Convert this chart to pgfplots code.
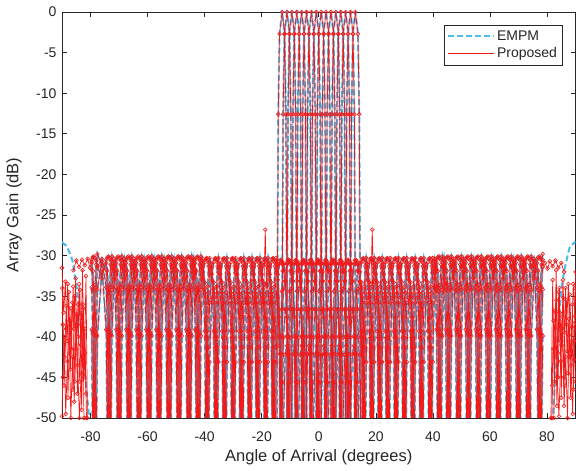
\documentclass[border=0pt]{standalone}
\usepackage{fontspec}
\setmainfont{Liberation Sans}
\usepackage{pgfplots}
\pgfplotsset{compat=1.18}
\usepackage{pgfplotstable}
\definecolor{cEMPM}{rgb}{0.30,0.745,0.933}
\definecolor{cProp}{rgb}{0.95,0.10,0.10}
\definecolor{axgray}{rgb}{0.15,0.15,0.15}

\pgfplotsset{
  empmline/.style={color=cEMPM, line width=2pt, dash pattern=on 6pt off 3pt, mark=none},
  propline/.style={color=cProp, line width=0.7pt, mark=none},
  propmark/.style={color=cProp, only marks, mark=o, mark size=1.9pt,
    mark options={line width=0.6pt, solid}, restrict y to domain=-50.5:0.5},
  propboth/.style={color=cProp, line width=0.7pt, mark=o, mark size=1.9pt,
    mark options={line width=0.6pt, solid}},
}

% sidelobe region, five beams (a..e) sampled on one angle grid
\pgfplotstableread{
x a b c d e
-79.6 -39.1 -33.9 -31.7 -30.9 -30.5
-79.2 -55 -39.4 -34.2 -31.9 -30.2
-78.8 -39.1 -55 -39.7 -34.4 -30.1
-78.4 -33.6 -39.4 -55 -39.9 -30.3
-78.0 -31.1 -33.9 -39.7 -55 -30.6
-77.6 -29.8 -31.4 -34.2 -39.9 -31.3
-76.05 -31.2 -30.4 -30.7 -32.0 -32.8
-74.5 -39.1 -33.9 -31.7 -30.9 -30.5
-74.1 -55 -39.4 -34.2 -31.9 -30.2
-73.7 -39.1 -55 -39.7 -34.4 -30.1
-73.3 -33.6 -39.4 -55 -39.9 -30.3
-72.9 -31.1 -33.9 -39.7 -55 -30.6
-72.5 -30.1 -31.4 -34.2 -39.9 -31.3
-71.75 -31.2 -30.4 -30.7 -32.0 -32.8
-71.0 -39.1 -33.9 -31.7 -30.9 -30.5
-70.6 -55 -39.4 -34.2 -31.9 -30.2
-70.2 -39.1 -55 -39.7 -34.4 -30.1
-69.8 -33.6 -39.4 -55 -39.9 -30.3
-69.4 -31.1 -33.9 -39.7 -55 -30.6
-69.0 -30.1 -31.4 -34.2 -39.9 -31.3
-68.25 -31.2 -30.4 -30.7 -32.0 -32.8
-67.5 -39.1 -33.9 -31.7 -30.9 -30.5
-67.1 -55 -39.4 -34.2 -31.9 -30.2
-66.7 -39.1 -55 -39.7 -34.4 -30.1
-66.3 -33.6 -39.4 -55 -39.9 -30.3
-65.9 -31.1 -33.9 -39.7 -55 -30.6
-65.5 -30.1 -31.4 -34.2 -39.9 -31.3
-64.75 -31.2 -30.4 -30.7 -32.0 -32.8
-64.0 -39.1 -33.9 -31.7 -30.9 -30.5
-63.6 -55 -39.4 -34.2 -31.9 -30.2
-63.2 -39.1 -55 -39.7 -34.4 -30.1
-62.8 -33.6 -39.4 -55 -39.9 -30.3
-62.4 -31.1 -33.9 -39.7 -55 -30.6
-62.0 -30.1 -31.4 -34.2 -39.9 -31.3
-61.25 -31.2 -30.4 -30.7 -32.0 -32.8
-60.5 -39.1 -33.9 -31.7 -30.9 -30.5
-60.1 -55 -39.4 -34.2 -31.9 -30.2
-59.7 -39.1 -55 -39.7 -34.4 -30.1
-59.3 -33.6 -39.4 -55 -39.9 -30.3
-58.9 -31.1 -33.9 -39.7 -55 -30.6
-58.5 -30.1 -31.4 -34.2 -39.9 -31.3
-57.75 -31.2 -30.4 -30.7 -32.0 -32.8
-57.0 -39.1 -33.9 -31.7 -30.9 -30.5
-56.6 -55 -39.4 -34.2 -31.9 -30.2
-56.2 -39.1 -55 -39.7 -34.4 -30.1
-55.8 -33.6 -39.4 -55 -39.9 -30.3
-55.4 -31.1 -33.9 -39.7 -55 -30.6
-55.0 -30.1 -31.4 -34.2 -39.9 -31.3
-54.25 -31.2 -30.4 -30.7 -32.0 -32.8
-53.5 -39.1 -33.9 -31.7 -30.9 -30.5
-53.1 -55 -39.4 -34.2 -31.9 -30.2
-52.7 -39.1 -55 -39.7 -34.4 -30.1
-52.3 -33.6 -39.4 -55 -39.9 -30.3
-51.9 -31.1 -33.9 -39.7 -55 -30.6
-51.5 -30.1 -31.4 -34.2 -39.9 -31.3
-50.75 -31.2 -30.4 -30.7 -32.0 -32.8
-50.0 -39.1 -33.9 -31.7 -30.9 -30.5
-49.6 -55 -39.4 -34.2 -31.9 -30.2
-49.2 -39.1 -55 -39.7 -34.4 -30.1
-48.8 -33.6 -39.4 -55 -39.9 -30.3
-48.4 -31.1 -33.9 -39.7 -55 -30.6
-48.0 -30.1 -31.4 -34.2 -39.9 -31.3
-47.25 -31.2 -30.4 -30.7 -32.0 -32.8
-46.5 -39.1 -33.9 -31.7 -30.9 -30.5
-46.1 -55 -39.4 -34.2 -31.9 -30.2
-45.7 -39.1 -55 -39.7 -34.4 -30.1
-45.3 -33.6 -39.4 -55 -39.9 -30.3
-44.9 -31.1 -33.9 -39.7 -55 -30.6
-44.5 -30.1 -31.4 -34.2 -39.9 -31.3
-43.9 -31.2 -30.4 -30.7 -32.0 -32.8
-43.3 -39.1 -33.9 -31.7 -30.9 -30.5
-42.9 -55 -39.4 -34.2 -31.9 -30.2
-42.5 -39.1 -55 -39.7 -34.4 -30.1
-42.1 -33.6 -39.4 -55 -39.9 -30.3
-41.7 -31.1 -33.9 -39.7 -55 -30.6
-41.3 -30.1 -31.4 -34.2 -39.9 -31.3
-40.7 -31.2 -30.4 -30.7 -32.0 -32.8
-39.95 -39.3 -34.6 -33.3 -34.1 -30.8
-39.61 -55 -40.1 -35.8 -35.1 -30.4
-39.27 -39.3 -55 -41.3 -37.6 -30.3
-38.93 -33.8 -40.1 -55 -43.1 -30.5
-38.59 -31.3 -34.6 -41.3 -55 -30.9
-38.25 -30.3 -32.1 -35.8 -43.1 -31.6
-37.55 -31.4 -31.1 -32.3 -35.2 -33.0
-36.85 -39.3 -34.6 -33.3 -34.1 -30.8
-36.51 -55 -40.1 -35.8 -35.1 -30.4
-36.17 -39.3 -55 -41.3 -37.6 -30.3
-35.83 -33.8 -40.1 -55 -43.1 -30.5
-35.49 -31.3 -34.6 -41.3 -55 -30.9
-35.15 -30.3 -32.1 -35.8 -43.1 -31.6
-34.5 -31.4 -31.1 -32.3 -35.2 -33.0
-33.85 -39.3 -34.6 -33.3 -34.1 -30.8
-33.51 -55 -40.1 -35.8 -35.1 -30.4
-33.17 -39.3 -55 -41.3 -37.6 -30.3
-32.83 -33.8 -40.1 -55 -43.1 -30.5
-32.49 -31.3 -34.6 -41.3 -55 -30.9
-32.15 -30.3 -32.1 -35.8 -43.1 -31.6
-31.5 -31.4 -31.1 -32.3 -35.2 -33.0
-30.85 -39.3 -34.6 -33.3 -34.1 -30.8
-30.51 -55 -40.1 -35.8 -35.1 -30.4
-30.17 -39.3 -55 -41.3 -37.6 -30.3
-29.83 -33.8 -40.1 -55 -43.1 -30.5
-29.49 -31.3 -34.6 -41.3 -55 -30.9
-29.15 -30.3 -32.1 -35.8 -43.1 -31.6
-28.55 -31.4 -31.1 -32.3 -35.2 -33.0
-27.95 -39.3 -34.6 -33.3 -34.1 -30.8
-27.61 -55 -40.1 -35.8 -35.1 -30.4
-27.27 -39.3 -55 -41.3 -37.6 -30.3
-26.93 -33.8 -40.1 -55 -43.1 -30.5
-26.59 -31.3 -34.6 -41.3 -55 -30.9
-26.25 -30.3 -32.1 -35.8 -43.1 -31.6
-25.65 -31.4 -31.1 -32.3 -35.2 -33.0
-25.05 -39.3 -34.6 -33.3 -34.1 -30.8
-24.71 -55 -40.1 -35.8 -35.1 -30.4
-24.37 -39.3 -55 -41.3 -37.6 -30.3
-24.03 -33.8 -40.1 -55 -43.1 -30.5
-23.69 -31.3 -34.6 -41.3 -55 -30.9
-23.35 -30.3 -32.1 -35.8 -43.1 -31.6
-22.8 -31.4 -31.1 -32.3 -35.2 -33.0
-22.25 -39.3 -34.6 -33.3 -34.1 -30.8
-21.91 -55 -40.1 -35.8 -35.1 -30.4
-21.57 -39.3 -55 -41.3 -37.6 -30.3
-21.23 -33.8 -40.1 -55 -43.1 -30.5
-20.89 -31.3 -34.6 -41.3 -55 -30.9
-20.55 -30.3 -32.1 -35.8 -43.1 -31.6
-20.0 -31.4 -31.1 -32.3 -35.2 -33.0
-19.45 -39.3 -34.6 -33.3 -34.1 -30.8
-19.11 -55 -40.1 -35.8 -35.1 -30.4
-18.77 -39.3 -55 -41.3 -37.6 -30.3
-18.43 -33.8 -40.1 -55 -43.1 -30.5
-18.09 -31.3 -34.6 -41.3 -55 -30.9
-17.75 -30.3 -32.1 -35.8 -43.1 -31.6
-17.2 -31.4 -31.1 -32.3 -35.2 -33.0
-16.65 -39.3 -34.6 -33.3 -34.1 -30.8
-16.31 -55 -40.1 -35.8 -35.1 -30.4
-15.97 -39.3 -55 -41.3 -37.6 -30.3
-15.63 -33.8 -40.1 -55 -43.1 -30.5
-15.29 -31.3 -34.6 -41.3 -55 -30.9
-14.95 -30.3 -32.1 -35.8 -43.1 -31.6
-14.4 -31.4 -31.1 -32.3 -35.2 -33.0
-13.85 -39.9 -36.6 -37.6 -41.1 -31.0
-13.55 -55 -42.1 -40.1 -42.1 -30.6
-13.25 -39.9 -55 -45.6 -44.6 -30.5
-12.95 -34.4 -42.1 -55 -50.1 -30.7
-12.65 -31.9 -36.6 -45.6 -55 -31.1
-12.35 -30.9 -34.1 -40.1 -50.1 -31.8
-11.75 -32.0 -33.1 -36.6 -42.2 -33.2
-11.15 -39.9 -36.6 -37.6 -41.1 -31.0
-10.85 -55 -42.1 -40.1 -42.1 -30.6
-10.55 -39.9 -55 -45.6 -44.6 -30.5
-10.25 -34.4 -42.1 -55 -50.1 -30.7
-9.95 -31.9 -36.6 -45.6 -55 -31.1
-9.65 -30.9 -34.1 -40.1 -50.1 -31.8
-9.1 -32.0 -33.1 -36.6 -42.2 -33.2
-8.55 -39.9 -36.6 -37.6 -41.1 -31.0
-8.25 -55 -42.1 -40.1 -42.1 -30.6
-7.95 -39.9 -55 -45.6 -44.6 -30.5
-7.65 -34.4 -42.1 -55 -50.1 -30.7
-7.35 -31.9 -36.6 -45.6 -55 -31.1
-7.05 -30.9 -34.1 -40.1 -50.1 -31.8
-6.5 -32.0 -33.1 -36.6 -42.2 -33.2
-5.95 -39.9 -36.6 -37.6 -41.1 -31.0
-5.65 -55 -42.1 -40.1 -42.1 -30.6
-5.35 -39.9 -55 -45.6 -44.6 -30.5
-5.05 -34.4 -42.1 -55 -50.1 -30.7
-4.75 -31.9 -36.6 -45.6 -55 -31.1
-4.45 -30.9 -34.1 -40.1 -50.1 -31.8
-3.9 -32.0 -33.1 -36.6 -42.2 -33.2
-3.35 -39.9 -36.6 -37.6 -41.1 -31.0
-3.05 -55 -42.1 -40.1 -42.1 -30.6
-2.75 -39.9 -55 -45.6 -44.6 -30.5
-2.45 -34.4 -42.1 -55 -50.1 -30.7
-2.15 -31.9 -36.6 -45.6 -55 -31.1
-1.85 -30.9 -34.1 -40.1 -50.1 -31.8
-1.3 -32.0 -33.1 -36.6 -42.2 -33.2
-0.75 -39.9 -36.6 -37.6 -41.1 -31.0
-0.45 -55 -42.1 -40.1 -42.1 -30.6
-0.15 -39.9 -55 -45.6 -44.6 -30.5
0.15 -34.4 -42.1 -55 -50.1 -30.7
0.45 -31.9 -36.6 -45.6 -55 -31.1
0.75 -30.9 -34.1 -40.1 -50.1 -31.8
1.3 -32.0 -33.1 -36.6 -42.2 -33.2
1.85 -39.9 -36.6 -37.6 -41.1 -31.0
2.15 -55 -42.1 -40.1 -42.1 -30.6
2.45 -39.9 -55 -45.6 -44.6 -30.5
2.75 -34.4 -42.1 -55 -50.1 -30.7
3.05 -31.9 -36.6 -45.6 -55 -31.1
3.35 -30.9 -34.1 -40.1 -50.1 -31.8
3.9 -32.0 -33.1 -36.6 -42.2 -33.2
4.45 -39.9 -36.6 -37.6 -41.1 -31.0
4.75 -55 -42.1 -40.1 -42.1 -30.6
5.05 -39.9 -55 -45.6 -44.6 -30.5
5.35 -34.4 -42.1 -55 -50.1 -30.7
5.65 -31.9 -36.6 -45.6 -55 -31.1
5.95 -30.9 -34.1 -40.1 -50.1 -31.8
6.5 -32.0 -33.1 -36.6 -42.2 -33.2
7.05 -39.9 -36.6 -37.6 -41.1 -31.0
7.35 -55 -42.1 -40.1 -42.1 -30.6
7.65 -39.9 -55 -45.6 -44.6 -30.5
7.95 -34.4 -42.1 -55 -50.1 -30.7
8.25 -31.9 -36.6 -45.6 -55 -31.1
8.55 -30.9 -34.1 -40.1 -50.1 -31.8
9.1 -32.0 -33.1 -36.6 -42.2 -33.2
9.65 -39.9 -36.6 -37.6 -41.1 -31.0
9.95 -55 -42.1 -40.1 -42.1 -30.6
10.25 -39.9 -55 -45.6 -44.6 -30.5
10.55 -34.4 -42.1 -55 -50.1 -30.7
10.85 -31.9 -36.6 -45.6 -55 -31.1
11.15 -30.9 -34.1 -40.1 -50.1 -31.8
11.75 -32.0 -33.1 -36.6 -42.2 -33.2
12.35 -39.9 -36.6 -37.6 -41.1 -31.0
12.65 -55 -42.1 -40.1 -42.1 -30.6
12.95 -39.9 -55 -45.6 -44.6 -30.5
13.25 -34.4 -42.1 -55 -50.1 -30.7
13.55 -31.9 -36.6 -45.6 -55 -31.1
13.85 -30.9 -34.1 -40.1 -50.1 -31.8
14.4 -32.0 -33.1 -36.6 -42.2 -33.2
14.95 -39.3 -34.6 -33.3 -34.1 -30.8
15.29 -55 -40.1 -35.8 -35.1 -30.4
15.63 -39.3 -55 -41.3 -37.6 -30.3
15.97 -33.8 -40.1 -55 -43.1 -30.5
16.31 -31.3 -34.6 -41.3 -55 -30.9
16.65 -30.3 -32.1 -35.8 -43.1 -31.6
17.2 -31.4 -31.1 -32.3 -35.2 -33.0
17.75 -39.3 -34.6 -33.3 -34.1 -30.8
18.09 -55 -40.1 -35.8 -35.1 -30.4
18.43 -39.3 -55 -41.3 -37.6 -30.3
18.77 -33.8 -40.1 -55 -43.1 -30.5
19.11 -31.3 -34.6 -41.3 -55 -30.9
19.45 -30.3 -32.1 -35.8 -43.1 -31.6
20.0 -31.4 -31.1 -32.3 -35.2 -33.0
20.55 -39.3 -34.6 -33.3 -34.1 -30.8
20.89 -55 -40.1 -35.8 -35.1 -30.4
21.23 -39.3 -55 -41.3 -37.6 -30.3
21.57 -33.8 -40.1 -55 -43.1 -30.5
21.91 -31.3 -34.6 -41.3 -55 -30.9
22.25 -30.3 -32.1 -35.8 -43.1 -31.6
22.8 -31.4 -31.1 -32.3 -35.2 -33.0
23.35 -39.3 -34.6 -33.3 -34.1 -30.8
23.69 -55 -40.1 -35.8 -35.1 -30.4
24.03 -39.3 -55 -41.3 -37.6 -30.3
24.37 -33.8 -40.1 -55 -43.1 -30.5
24.71 -31.3 -34.6 -41.3 -55 -30.9
25.05 -30.3 -32.1 -35.8 -43.1 -31.6
25.65 -31.4 -31.1 -32.3 -35.2 -33.0
26.25 -39.3 -34.6 -33.3 -34.1 -30.8
26.59 -55 -40.1 -35.8 -35.1 -30.4
26.93 -39.3 -55 -41.3 -37.6 -30.3
27.27 -33.8 -40.1 -55 -43.1 -30.5
27.61 -31.3 -34.6 -41.3 -55 -30.9
27.95 -30.3 -32.1 -35.8 -43.1 -31.6
28.55 -31.4 -31.1 -32.3 -35.2 -33.0
29.15 -39.3 -34.6 -33.3 -34.1 -30.8
29.49 -55 -40.1 -35.8 -35.1 -30.4
29.83 -39.3 -55 -41.3 -37.6 -30.3
30.17 -33.8 -40.1 -55 -43.1 -30.5
30.51 -31.3 -34.6 -41.3 -55 -30.9
30.85 -30.3 -32.1 -35.8 -43.1 -31.6
31.5 -31.4 -31.1 -32.3 -35.2 -33.0
32.15 -39.3 -34.6 -33.3 -34.1 -30.8
32.49 -55 -40.1 -35.8 -35.1 -30.4
32.83 -39.3 -55 -41.3 -37.6 -30.3
33.17 -33.8 -40.1 -55 -43.1 -30.5
33.51 -31.3 -34.6 -41.3 -55 -30.9
33.85 -30.3 -32.1 -35.8 -43.1 -31.6
34.5 -31.4 -31.1 -32.3 -35.2 -33.0
35.15 -39.3 -34.6 -33.3 -34.1 -30.8
35.49 -55 -40.1 -35.8 -35.1 -30.4
35.83 -39.3 -55 -41.3 -37.6 -30.3
36.17 -33.8 -40.1 -55 -43.1 -30.5
36.51 -31.3 -34.6 -41.3 -55 -30.9
36.85 -30.3 -32.1 -35.8 -43.1 -31.6
37.55 -31.4 -31.1 -32.3 -35.2 -33.0
38.25 -39.3 -34.6 -33.3 -34.1 -30.8
38.59 -55 -40.1 -35.8 -35.1 -30.4
38.93 -39.3 -55 -41.3 -37.6 -30.3
39.27 -33.8 -40.1 -55 -43.1 -30.5
39.61 -31.3 -34.6 -41.3 -55 -30.9
39.95 -30.3 -32.1 -35.8 -43.1 -31.6
40.7 -31.2 -30.4 -30.7 -32.0 -32.8
41.3 -39.1 -33.9 -31.7 -30.9 -30.5
41.7 -55 -39.4 -34.2 -31.9 -30.2
42.1 -39.1 -55 -39.7 -34.4 -30.1
42.5 -33.6 -39.4 -55 -39.9 -30.3
42.9 -31.1 -33.9 -39.7 -55 -30.6
43.3 -30.1 -31.4 -34.2 -39.9 -31.3
43.9 -31.2 -30.4 -30.7 -32.0 -32.8
44.5 -39.1 -33.9 -31.7 -30.9 -30.5
44.9 -55 -39.4 -34.2 -31.9 -30.2
45.3 -39.1 -55 -39.7 -34.4 -30.1
45.7 -33.6 -39.4 -55 -39.9 -30.3
46.1 -31.1 -33.9 -39.7 -55 -30.6
46.5 -30.1 -31.4 -34.2 -39.9 -31.3
47.25 -31.2 -30.4 -30.7 -32.0 -32.8
48.0 -39.1 -33.9 -31.7 -30.9 -30.5
48.4 -55 -39.4 -34.2 -31.9 -30.2
48.8 -39.1 -55 -39.7 -34.4 -30.1
49.2 -33.6 -39.4 -55 -39.9 -30.3
49.6 -31.1 -33.9 -39.7 -55 -30.6
50.0 -30.1 -31.4 -34.2 -39.9 -31.3
50.75 -31.2 -30.4 -30.7 -32.0 -32.8
51.5 -39.1 -33.9 -31.7 -30.9 -30.5
51.9 -55 -39.4 -34.2 -31.9 -30.2
52.3 -39.1 -55 -39.7 -34.4 -30.1
52.7 -33.6 -39.4 -55 -39.9 -30.3
53.1 -31.1 -33.9 -39.7 -55 -30.6
53.5 -30.1 -31.4 -34.2 -39.9 -31.3
54.25 -31.2 -30.4 -30.7 -32.0 -32.8
55.0 -39.1 -33.9 -31.7 -30.9 -30.5
55.4 -55 -39.4 -34.2 -31.9 -30.2
55.8 -39.1 -55 -39.7 -34.4 -30.1
56.2 -33.6 -39.4 -55 -39.9 -30.3
56.6 -31.1 -33.9 -39.7 -55 -30.6
57.0 -30.1 -31.4 -34.2 -39.9 -31.3
57.75 -31.2 -30.4 -30.7 -32.0 -32.8
58.5 -39.1 -33.9 -31.7 -30.9 -30.5
58.9 -55 -39.4 -34.2 -31.9 -30.2
59.3 -39.1 -55 -39.7 -34.4 -30.1
59.7 -33.6 -39.4 -55 -39.9 -30.3
60.1 -31.1 -33.9 -39.7 -55 -30.6
60.5 -30.1 -31.4 -34.2 -39.9 -31.3
61.25 -31.2 -30.4 -30.7 -32.0 -32.8
62.0 -39.1 -33.9 -31.7 -30.9 -30.5
62.4 -55 -39.4 -34.2 -31.9 -30.2
62.8 -39.1 -55 -39.7 -34.4 -30.1
63.2 -33.6 -39.4 -55 -39.9 -30.3
63.6 -31.1 -33.9 -39.7 -55 -30.6
64.0 -30.1 -31.4 -34.2 -39.9 -31.3
64.75 -31.2 -30.4 -30.7 -32.0 -32.8
65.5 -39.1 -33.9 -31.7 -30.9 -30.5
65.9 -55 -39.4 -34.2 -31.9 -30.2
66.3 -39.1 -55 -39.7 -34.4 -30.1
66.7 -33.6 -39.4 -55 -39.9 -30.3
67.1 -31.1 -33.9 -39.7 -55 -30.6
67.5 -30.1 -31.4 -34.2 -39.9 -31.3
68.25 -31.2 -30.4 -30.7 -32.0 -32.8
69.0 -39.1 -33.9 -31.7 -30.9 -30.5
69.4 -55 -39.4 -34.2 -31.9 -30.2
69.8 -39.1 -55 -39.7 -34.4 -30.1
70.2 -33.6 -39.4 -55 -39.9 -30.3
70.6 -31.1 -33.9 -39.7 -55 -30.6
71.0 -30.1 -31.4 -34.2 -39.9 -31.3
71.75 -31.2 -30.4 -30.7 -32.0 -32.8
72.5 -39.1 -33.9 -31.7 -30.9 -30.5
72.9 -55 -39.4 -34.2 -31.9 -30.2
73.3 -39.1 -55 -39.7 -34.4 -30.1
73.7 -33.6 -39.4 -55 -39.9 -30.3
74.1 -31.1 -33.9 -39.7 -55 -30.6
74.5 -30.1 -31.4 -34.2 -39.9 -31.3
75.5 -31.2 -30.4 -30.7 -32.0 -32.8
76.5 -39.1 -33.9 -31.7 -30.9 -30.5
76.9 -55 -39.4 -34.2 -31.9 -30.2
77.3 -39.1 -55 -39.7 -34.4 -30.1
77.7 -33.6 -39.4 -55 -39.9 -30.3
78.1 -31.1 -33.9 -39.7 -55 -30.6
78.5 -29.8 -31.4 -34.2 -39.9 -31.3
}\side

% main lobes of the 16 beams
\pgfplotstableread{
x y
-14.70 -55
-14.45 -31
-14.20 -12.6
-13.75 -2.7
-12.85 0
-11.95 -2.7
-11.50 -12.6
-11.25 -31
-11.00 -55
-12.99 -55
-12.74 -31
-12.49 -12.6
-12.04 -2.7
-11.14 0
-10.24 -2.7
-9.79 -12.6
-9.54 -31
-9.29 -55
-11.28 -55
-11.03 -31
-10.78 -12.6
-10.33 -2.7
-9.43 0
-8.53 -2.7
-8.08 -12.6
-7.83 -31
-7.58 -55
-9.56 -55
-9.31 -31
-9.06 -12.6
-8.61 -2.7
-7.71 0
-6.81 -2.7
-6.36 -12.6
-6.11 -31
-5.86 -55
-7.85 -55
-7.60 -31
-7.35 -12.6
-6.90 -2.7
-6.00 0
-5.10 -2.7
-4.65 -12.6
-4.40 -31
-4.15 -55
-6.14 -55
-5.89 -31
-5.64 -12.6
-5.19 -2.7
-4.29 0
-3.39 -2.7
-2.94 -12.6
-2.69 -31
-2.44 -55
-4.42 -55
-4.17 -31
-3.92 -12.6
-3.47 -2.7
-2.57 0
-1.67 -2.7
-1.22 -12.6
-0.97 -31
-0.72 -55
-2.71 -55
-2.46 -31
-2.21 -12.6
-1.76 -2.7
-0.86 0
0.04 -2.7
0.49 -12.6
0.74 -31
0.99 -55
-0.99 -55
-0.74 -31
-0.49 -12.6
-0.04 -2.7
0.86 0
1.76 -2.7
2.21 -12.6
2.46 -31
2.71 -55
0.72 -55
0.97 -31
1.22 -12.6
1.67 -2.7
2.57 0
3.47 -2.7
3.92 -12.6
4.17 -31
4.42 -55
2.44 -55
2.69 -31
2.94 -12.6
3.39 -2.7
4.29 0
5.19 -2.7
5.64 -12.6
5.89 -31
6.14 -55
4.15 -55
4.40 -31
4.65 -12.6
5.10 -2.7
6.00 0
6.90 -2.7
7.35 -12.6
7.60 -31
7.85 -55
5.86 -55
6.11 -31
6.36 -12.6
6.81 -2.7
7.71 0
8.61 -2.7
9.06 -12.6
9.31 -31
9.56 -55
7.58 -55
7.83 -31
8.08 -12.6
8.53 -2.7
9.43 0
10.33 -2.7
10.78 -12.6
11.03 -31
11.28 -55
9.29 -55
9.54 -31
9.79 -12.6
10.24 -2.7
11.14 0
12.04 -2.7
12.49 -12.6
12.74 -31
12.99 -55
11.00 -55
11.25 -31
11.50 -12.6
11.95 -2.7
12.85 0
13.75 -2.7
14.20 -12.6
14.45 -31
14.70 -55
}\mainlobe

\begin{document}
\begin{tikzpicture}
\begin{axis}[
  width=513.5pt, height=406pt, scale only axis,
  xmin=-90, xmax=90, ymin=-50, ymax=0,
  xtick={-80,-60,...,80}, ytick={-50,-45,...,0},
  tick align=inside, major tick length=5pt,
  axis line style={draw=axgray, line width=0.6pt},
  every tick/.append style={draw=axgray, line width=0.6pt},
  tick label style={font=\fontsize{14}{16}\selectfont, text=axgray},
  xticklabel style={anchor=center, yshift=-19pt},
  yticklabel style={anchor=east, xshift=-2pt},
  label style={font=\fontsize{16.5}{19}\selectfont, text=axgray},
  xlabel style={at={(rel axis cs:0.5,0)}, anchor=center, yshift=-39pt},
  ylabel style={at={(rel axis cs:0,0.5)}, anchor=center, yshift=48pt},
  /pgf/number format/assume math mode=true,
  xlabel={Angle of Arrival (degrees)},
  ylabel={Array Gain (dB)},
  legend style={at={(0.974,0.968)}, anchor=north east, draw=axgray,
    font=\fontsize{14}{16}\selectfont, text=axgray,
    inner xsep=3pt, inner ysep=3.5pt, row sep=2pt, cells={anchor=west}},
]
\addlegendimage{legend image code/.code={
  \draw[draw=cEMPM, line width=2pt, dash pattern=on 6pt off 3pt] (0pt,0pt) -- (46pt,0pt);}}
\addlegendimage{legend image code/.code={
  \draw[draw=cProp, line width=0.7pt] (0pt,0pt) -- (46pt,0pt);}}

% EMPM
\pgfplotsinvokeforeach{a,b,c,d,e}{\addplot[empmline] table[x=x,y=#1]{\side};}
\addplot[empmline] table[x=x,y=y]{\mainlobe};
\addplot[empmline] coordinates {(-90,-28.3) (-88.2,-28.9) (-86.4,-30.5) (-84.7,-34.2)
  (-83.5,-38.3) (-82.4,-42.5) (-81.4,-46.6) (-80.6,-49.4) (-80.3,-55)};
\addplot[empmline] coordinates {(81.9,-55) (82.2,-49.4) (82.7,-46.3) (83.4,-42.5)
  (84.5,-36.3) (85.4,-33.3) (86.3,-31.4) (88.0,-28.9) (90,-28.3)};

% Proposed
\pgfplotsinvokeforeach{a,b,c,d,e}{\addplot[propline] table[x=x,y=#1]{\side};}
\addplot[propline] table[x=x,y=y]{\mainlobe};
\pgfplotsinvokeforeach{a,b,c,d,e}{\addplot[propmark] table[x=x,y=#1]{\side};}
\addplot[propmark] table[x=x,y=y]{\mainlobe};

% Proposed near end-fire
\addplot[propboth] coordinates {(-90,-31.5) (-89.4,-37) (-88.8,-33.2) (-88.2,-40.5)
  (-87.6,-34.5) (-87,-44) (-86.4,-35.8) (-85.8,-39) (-85.2,-32.8) (-84.6,-47)
  (-84,-33.5) (-83.4,-41) (-82.8,-31.8) (-82.2,-45) (-81.6,-32.5) (-81.1,-50)};
\addplot[propboth] coordinates {(-89.7,-38.5) (-89.1,-42.5) (-88.5,-36.2) (-87.9,-47.5)
  (-87.3,-38) (-86.7,-41.5) (-86.1,-33.8) (-85.5,-45.5) (-84.9,-37.2) (-84.3,-40)
  (-83.7,-34.2) (-83.1,-49) (-82.5,-36.5) (-81.9,-42) (-81.4,-50)};
\addplot[propboth] coordinates {(-90,-49.8) (-89.7,-45) (-89.2,-40) (-88.7,-49.5)
  (-88.1,-43) (-87.5,-39.5) (-86.9,-50) (-86.3,-42.5) (-85.7,-48) (-85.1,-38.5)
  (-84.5,-43.5) (-83.9,-50) (-83.3,-44.5) (-82.7,-36) (-82.3,-50)};
\addplot[propboth] coordinates {(-89.9,-34) (-89.3,-46) (-88.6,-39) (-88,-33.5)
  (-87.4,-42) (-86.8,-36.5) (-86.2,-46.5) (-85.6,-35) (-85,-41.5) (-84.4,-36)
  (-83.8,-45.5) (-83.2,-38.5) (-82.6,-43) (-82,-39) (-81.6,-47)};
\addplot[propboth] coordinates {(-86,-31.8) (-85,-30.6) (-84,-31.4) (-83,-30.5)
  (-82,-31.2) (-81,-30.4) (-80.2,-31.5) (-79.6,-30.8)};
\addplot[propboth] coordinates {(81.4,-50) (82,-33) (82.6,-45.5) (83.2,-31.8)
  (83.8,-42) (84.4,-34) (85,-47.5) (85.6,-33) (86.2,-39.5) (86.8,-35.5)
  (87.4,-44.5) (88,-34.8) (88.6,-41) (89.2,-33.5) (89.8,-37.5) (90,-32)};
\addplot[propboth] coordinates {(81.7,-50) (82.3,-41.5) (82.9,-36.8) (83.5,-48.5)
  (84.1,-34.5) (84.7,-40.5) (85.3,-37.5) (85.9,-45) (86.5,-34) (87.1,-41.8)
  (87.7,-37.8) (88.3,-47.5) (88.9,-36) (89.5,-42.8) (90,-38.2)};
\addplot[propboth] coordinates {(82.4,-50) (83,-37) (83.6,-45) (84.2,-49.8)
  (84.8,-43) (85.4,-39) (86,-48.5) (86.6,-42.5) (87.2,-50) (87.8,-39.8)
  (88.4,-43.5) (89,-49.5) (89.5,-40.5) (90,-45.5)};
\addplot[propboth] coordinates {(81.8,-46) (82.3,-38) (82.8,-42.5) (83.3,-35.5)
  (83.9,-45) (84.5,-37) (85.1,-41) (85.7,-35.2) (86.3,-46) (86.9,-38.5)
  (87.5,-33.5) (88.1,-42.5) (88.7,-38.8) (89.3,-46.5) (89.9,-34)};
\addplot[propboth] coordinates {(78.5,-30.5) (79.3,-30.9) (80.2,-31.6) (81,-30.7)
  (82,-31.3) (83,-30.6) (84,-31.5) (85,-30.9) (86,-32)};
% small spikes
\addplot[propboth] coordinates {(-19.2,-33.5) (-18.75,-26.8) (-18.3,-33.5)};
\addplot[propboth] coordinates {(18.3,-33.5) (18.75,-26.8) (19.2,-33.5)};

\coordinate (bl) at (rel axis cs:0,0);
\coordinate (tr) at (rel axis cs:1,1);
\legend{EMPM,Proposed}
\end{axis}
\pgfresetboundingbox
\path ([shift={(-62pt,-53pt)}]bl) rectangle ([shift={(0.5pt,12pt)}]tr);
\end{tikzpicture}
\end{document}
